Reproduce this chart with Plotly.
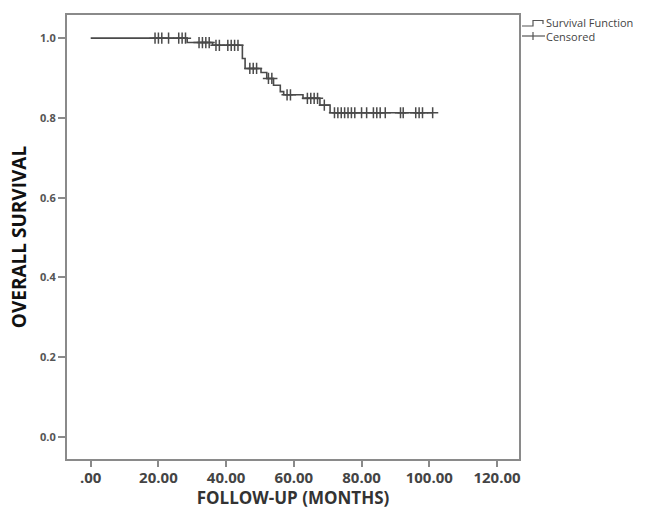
import numpy as np
import plotly.graph_objects as go

# Kaplan-Meier step function (time in months, survival proportion)
step_times = [0, 28.5, 36.0, 44.8, 45.6, 50.3, 52.0, 54.0, 56.0, 57.0, 62.7, 67.7, 70.7, 101.1]
step_surv = [1.0, 0.989, 0.982, 0.949, 0.924, 0.914, 0.899, 0.882, 0.866, 0.858, 0.849, 0.832, 0.813, 0.813]

# Censored observation times
censor_times = [19.0, 20.0, 21.0, 23.0, 26.0, 27.0, 28.0,
                32.0, 33.0, 34.0, 35.0,
                37.0, 38.0, 40.5, 41.5, 42.5, 43.5,
                47.0, 48.0, 49.0,
                52.5, 53.5,
                58.0, 59.0,
                64.0, 65.0, 66.0, 67.0,
                69.0,
                72.0, 73.0, 74.0, 75.0, 76.0, 77.0, 78.0, 80.0, 81.5, 83.5, 84.5, 85.5,
                87.0, 91.5, 92.3, 96.0, 97.0, 98.0, 101.0]

x_ticks = [0, 20, 40, 60, 80, 100, 120]
x_tick_labels = [".00", "20.00", "40.00", "60.00", "80.00", "100.00", "120.00"]
y_ticks = [0.0, 0.2, 0.4, 0.6, 0.8, 1.0]
y_tick_labels = ["0.0", "0.2", "0.4", "0.6", "0.8", "1.0"]
legend_labels = ["Survival Function", "Censored"]

st = np.array(step_times)
ss = np.array(step_surv)
ct = np.array(censor_times)
censor_surv = ss[np.searchsorted(st, ct, side="right") - 1]

LINE = "#4a4a4a"
FRAME = "#8a8a8a"
TXT = "#555555"
FONT = "Open Sans"

fig = go.Figure()
fig.add_trace(go.Scatter(x=step_times, y=step_surv, mode="lines", line_shape="hv",
                         line=dict(color=LINE, width=1.6), name=legend_labels[0],
                         showlegend=False, hoverinfo="skip"))
fig.add_trace(go.Scatter(x=ct, y=censor_surv, mode="markers",
                         marker=dict(symbol="cross-thin", size=8,
                                     line=dict(color=LINE, width=1.5)),
                         name=legend_labels[1], showlegend=False, hoverinfo="skip"))

fig.update_layout(
    width=647, height=509,
    margin=dict(l=67, r=128, t=15, b=50, autoexpand=False),
    paper_bgcolor="white", plot_bgcolor="white",
    font=dict(family=FONT, color=TXT),
    xaxis=dict(range=[-7.0, 126.5], tickvals=x_ticks, ticktext=x_tick_labels,
               automargin=False,
               showgrid=False, zeroline=False, showline=True, mirror=True,
               linecolor=FRAME, linewidth=2, ticks="outside", ticklen=6,
               tickwidth=2, tickcolor=FRAME, ticklabelstandoff=-2,
               tickfont=dict(family=FONT, size=15, color="#444444", weight="bold"),
               title=dict(text="FOLLOW-UP (MONTHS)", standoff=13,
                          font=dict(family=FONT, size=17, color="#333333", weight="bold"))),
    yaxis=dict(range=[-0.055, 1.058], tickvals=y_ticks, ticktext=y_tick_labels,
               automargin=False,
               showgrid=False, zeroline=False, showline=True, mirror=True,
               linecolor=FRAME, linewidth=2, ticks="outside", ticklen=7,
               tickwidth=2, tickcolor=FRAME,
               tickfont=dict(family=FONT, size=11, color="#555555", weight="bold"),
               title=dict(text="OVERALL SURVIVAL", standoff=8,
                          font=dict(family=FONT, size=19, color="#111111", weight="bold"))),
)

# Custom legend (outside plot, top right) in pixel-derived paper coordinates
W, H = 452.0, 444.0
def px(x):
    return (x - 67) / W
def py(y):
    return (459 - y) / H

leg_col = "#555555"
fig.add_shape(type="path", xref="paper", yref="paper",
              path=f"M {px(522)} {py(26)} L {px(533)} {py(26)} L {px(533)} {py(20.5)} "
                   f"L {px(543)} {py(20.5)} L {px(543)} {py(24)}",
              line=dict(color=leg_col, width=1.2))
fig.add_shape(type="line", xref="paper", yref="paper",
              x0=px(522), x1=px(545), y0=py(36), y1=py(36),
              line=dict(color=leg_col, width=1.2))
fig.add_shape(type="line", xref="paper", yref="paper",
              x0=px(533), x1=px(533), y0=py(32), y1=py(40),
              line=dict(color=leg_col, width=1.2))
fig.add_annotation(xref="paper", yref="paper", x=px(545), y=py(29.5),
                   text="<br>".join(legend_labels), align="left",
                   showarrow=False, xanchor="left", yanchor="middle", borderpad=0,
                   font=dict(family=FONT, size=11, color="#444444"))

fig.write_html("out.html", config={"displayModeBar": False},
               post_script="document.body.style.margin='0';")
